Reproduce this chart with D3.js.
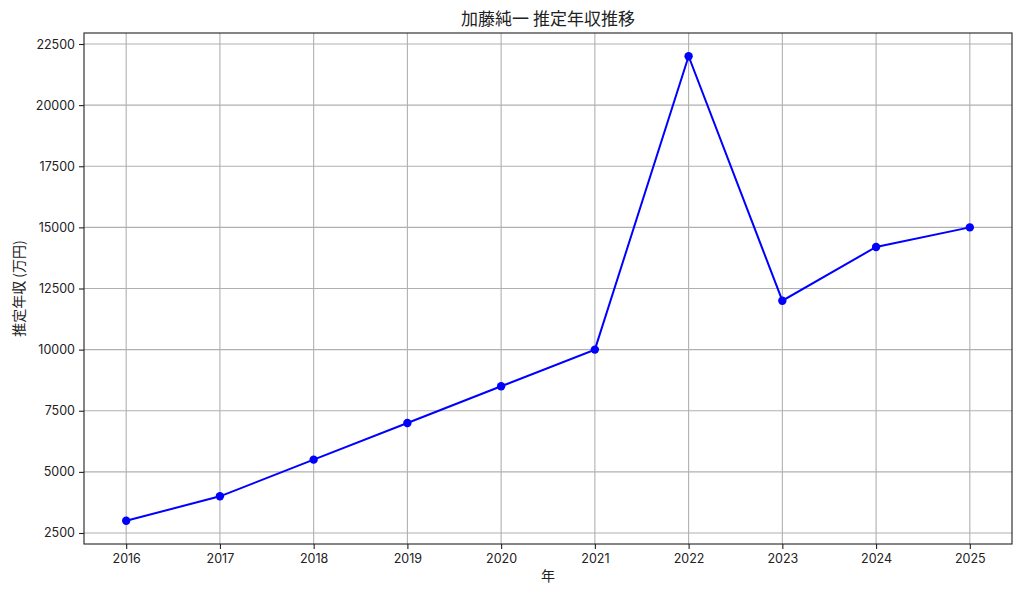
<!DOCTYPE html>
<html><head><meta charset="utf-8">
<script src="https://cdn.jsdelivr.net/npm/d3@7"></script>
<style>body{margin:0;background:#fff;} text{font-family:"Noto Sans CJK JP","Noto Sans",sans-serif;fill:#222;}</style>
</head><body>
<svg id="chart" width="1024" height="597"></svg>
<script>
const years = [2016,2017,2018,2019,2020,2021,2022,2023,2024,2025];
const income = [3000,4000,5500,7000,8500,10000,22000,12000,14200,15000];
const yTicks = [2500,5000,7500,10000,12500,15000,17500,20000,22500];
const titleText = "加藤純一 推定年収推移";
const xLabel = "年";
const yLabel = "推定年収 (万円)";

const svg = d3.select("#chart");
const L=84, R=1012, T=33, B=544;
const x = d3.scaleLinear().domain([2015.55,2025.45]).range([L,R]);
const y = d3.scaleLinear().domain([2050,22950]).range([B,T]);

svg.append("g").selectAll("line").data(years).join("line")
  .attr("x1",d=>x(d)).attr("x2",d=>x(d)).attr("y1",T).attr("y2",B)
  .attr("stroke","#b0b0b0").attr("stroke-width",1.1);
svg.append("g").selectAll("line").data(yTicks).join("line")
  .attr("y1",d=>y(d)).attr("y2",d=>y(d)).attr("x1",L).attr("x2",R)
  .attr("stroke","#b0b0b0").attr("stroke-width",1.1);

const xAxis = svg.append("g").attr("transform",`translate(0,${B})`)
  .call(d3.axisBottom(x).tickValues(years).tickFormat(d3.format("d")).tickSize(5).tickPadding(5));
const yAxis = svg.append("g").attr("transform",`translate(${L},0)`)
  .call(d3.axisLeft(y).tickValues(yTicks).tickFormat(d3.format("d")).tickSize(5).tickPadding(4));
[xAxis,yAxis].forEach(a=>{
  a.select(".domain").remove();
  a.selectAll("text").style("font-size","12.5px").style("font-family","Inter, 'Noto Sans', sans-serif").attr("fill","#222");
  a.selectAll("line").attr("stroke","#222").attr("stroke-width",1.1);
});

svg.append("rect").attr("x",L).attr("y",T).attr("width",R-L).attr("height",B-T)
  .attr("fill","none").attr("stroke","#222").attr("stroke-width",1.1);

const line = d3.line().x((d,i)=>x(years[i])).y(d=>y(d));
svg.append("path").datum(income).attr("d",line).attr("fill","none")
  .attr("stroke","#0000ff").attr("stroke-width",2);
svg.append("g").selectAll("circle").data(income).join("circle")
  .attr("cx",(d,i)=>x(years[i])).attr("cy",d=>y(d)).attr("r",4.2).attr("fill","#0000ff");

svg.append("text").attr("x",(L+R)/2).attr("y",25).attr("text-anchor","middle")
  .style("font-size","17px").text(titleText);
svg.append("text").attr("x",(L+R)/2).attr("y",581).attr("text-anchor","middle")
  .style("font-size","14px").text(xLabel);
svg.append("text").attr("transform",`translate(24,${(T+B)/2}) rotate(-90)`).attr("text-anchor","middle")
  .style("font-size","14px").text(yLabel);
</script>
</body></html>
